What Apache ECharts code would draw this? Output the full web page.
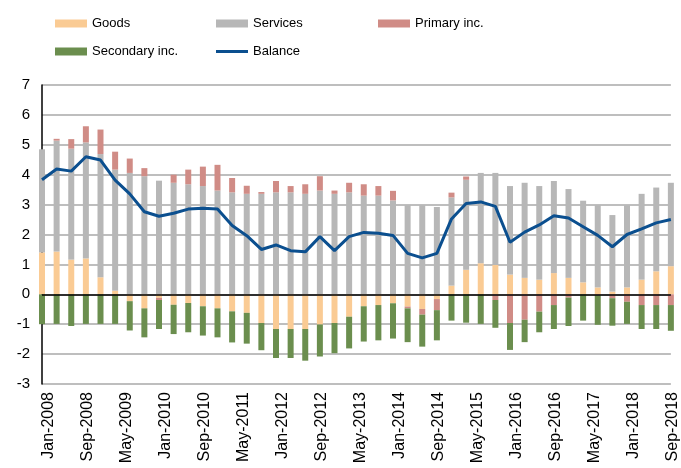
<!DOCTYPE html>
<html>
<head>
<meta charset="utf-8">
<script src="https://cdn.jsdelivr.net/npm/echarts@6/dist/echarts.min.js"></script>
<style>
html,body{margin:0;padding:0;background:#fff;}
#main{width:681px;height:468px;}
</style>
</head>
<body>
<div id="main"></div>
<script>
// Quarterly observations, Jan-2008 onward (every 3 months)
var goods = [1.40,1.43,1.16,1.20,0.57,0.12,-0.23,-0.47,-0.12,-0.35,
             -0.29,-0.40,-0.47,-0.57,-0.62,-0.96,-1.16,-1.16,-1.16,-1.01,
             -0.96,-0.75,-0.40,-0.36,-0.30,-0.41,-0.49,-0.16,0.29,0.82,
             1.04,0.98,0.66,0.55,0.49,0.71,0.55,0.40,0.23,0.09,
             0.23,0.49,0.77,0.94];
var services = [3.45,3.71,3.71,3.88,4.12,4.05,4.06,3.95,3.80,3.73,
                3.68,3.62,3.47,3.41,3.36,3.36,3.41,3.41,3.36,3.47,
                3.36,3.41,3.30,3.30,3.14,2.98,2.98,2.92,2.95,3.01,
                3.02,3.08,2.96,3.18,3.13,3.08,2.97,2.73,2.75,2.56,
                2.75,2.87,2.80,2.79];
var primaryInc = [0.00,0.06,0.32,0.54,0.82,0.60,0.48,0.27,-0.07,0.27,
                  0.49,0.65,0.86,0.48,0.27,0.06,0.38,0.21,0.32,0.48,
                  0.11,0.32,0.38,0.32,0.32,-0.06,-0.19,-0.37,0.16,0.11,
                  0.00,-0.19,-0.96,-0.85,-0.58,-0.36,-0.11,0.00,-0.03,-0.13,
                  -0.25,-0.36,-0.36,-0.36];
var secondaryInc = [-1.00,-0.99,-1.06,-0.99,-0.99,-0.99,-0.98,-0.97,-0.97,-0.98,
                    -0.98,-0.98,-0.97,-1.04,-1.03,-0.91,-0.97,-0.97,-1.06,-1.07,
                    -1.01,-1.06,-1.18,-1.18,-1.18,-1.13,-1.07,-1.01,-0.88,-0.95,
                    -0.99,-0.93,-0.90,-0.75,-0.69,-0.80,-0.95,-0.88,-0.99,-0.92,
                    -0.74,-0.80,-0.80,-0.86];
var balance = [3.83,4.19,4.12,4.60,4.49,3.82,3.36,2.76,2.61,2.71,
               2.85,2.88,2.85,2.30,1.96,1.50,1.65,1.46,1.42,1.93,
               1.46,1.93,2.07,2.04,1.97,1.37,1.22,1.37,2.52,3.04,
               3.09,2.94,1.74,2.08,2.32,2.63,2.55,2.26,1.97,1.59,
               2.00,2.19,2.39,2.50];
var tickLabels = ['Jan-2008','Sep-2008','May-2009','Jan-2010','Sep-2010','May-2011',
                  'Jan-2012','Sep-2012','May-2013','Jan-2014','Sep-2014','May-2015',
                  'Jan-2016','Sep-2016','May-2017','Jan-2018','Sep-2018'];
var monthStep = 3;   // months between observations
var labelStep = 8;   // months between axis labels

// monthly category slots; observations sit every 3rd month
var nMonths = (goods.length - 1) * monthStep + 1;
var months = [];
for (var m = 0; m < nMonths; m++) months.push(String(m));
function toMonthly(arr, empty){
  var out = [];
  for (var m = 0; m < nMonths; m++) out.push(m % monthStep === 0 ? arr[m / monthStep] : empty);
  return out;
}

var FONT = 'Liberation Sans, Arial, sans-serif';
var chart = echarts.init(document.getElementById('main'), null, {renderer:'canvas'});

function legendAt(name, left, top, opts){
  return Object.assign({
    data:[name], left:left, top:top, padding:0, itemWidth:32, itemHeight:8, icon:'rect',
    textStyle:{fontFamily:FONT, fontSize:13, color:'#000'}, selectedMode:false
  }, opts||{});
}

var barW = 6;
chart.setOption({
  animation:false,
  legend:[
    legendAt('Goods', 55, 17),
    legendAt('Services', 216, 17),
    legendAt('Primary inc.', 378, 17),
    legendAt('Secondary inc.', 55, 45),
    legendAt('Balance', 216, 45, {itemHeight:3})
  ],
  grid:{left:42, right:10, top:85, bottom:84, containLabel:false},
  xAxis:{
    type:'category', data:months, boundaryGap:false,
    axisLine:{show:false}, axisTick:{show:false}, splitLine:{show:false},
    axisLabel:{
      rotate:90, margin:8, fontFamily:FONT, fontSize:16, color:'#000',
      interval:labelStep - 1, verticalAlign:'top', lineHeight:14,
      formatter:function(v, idx){
        var i = Number(v);
        return (i % labelStep === 0) ? (tickLabels[i / labelStep] || '') : '';
      }
    }
  },
  yAxis:{
    type:'value', min:-3, max:7, interval:1,
    axisLine:{show:true, lineStyle:{color:'#000', width:1.5}},
    axisTick:{show:false},
    splitLine:{lineStyle:{color:'#a9a9a9', width:1.5}},
    axisLabel:{fontFamily:FONT, fontSize:15, color:'#000', margin:12}
  },
  series:[
    {name:'Goods', type:'bar', stack:'ca', barWidth:barW, data:toMonthly(goods,'-'), itemStyle:{color:'#FACB94'}},
    {name:'Services', type:'bar', stack:'ca', barWidth:barW, data:toMonthly(services,'-'), itemStyle:{color:'#B7B7B7'}},
    {name:'Primary inc.', type:'bar', stack:'ca', barWidth:barW, data:toMonthly(primaryInc,'-'), itemStyle:{color:'#D08C86'}},
    {name:'Secondary inc.', type:'bar', stack:'ca', barWidth:barW, data:toMonthly(secondaryInc,'-'), itemStyle:{color:'#6B8E4E'}},
    {name:'Balance', type:'line', data:toMonthly(balance,null), connectNulls:true, showSymbol:false, symbol:'none',
     lineStyle:{color:'#0B4F8F', width:3}, itemStyle:{color:'#0B4F8F'}, z:5,
     markLine:{silent:true, symbol:'none', label:{show:false},
       lineStyle:{color:'#000', width:1.5, type:'solid'}, data:[{yAxis:0}]}}
  ]
});
</script>
</body>
</html>
